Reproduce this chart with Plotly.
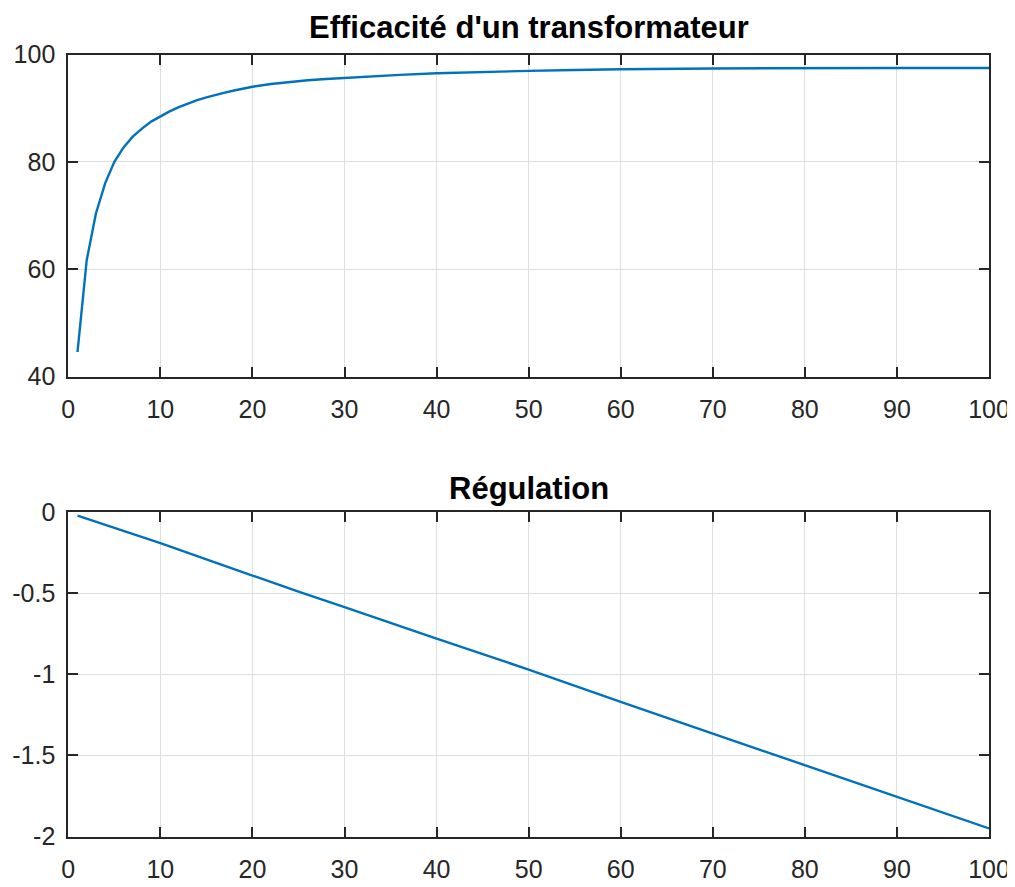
import plotly.graph_objects as go

# ---- data ----
eff_x = [1, 2, 3, 4, 5, 6, 7, 8, 9, 10, 11, 12, 13, 14, 15, 16, 17, 18, 19, 20,
         22, 24, 26, 28, 30, 33, 36, 40, 45, 50, 55, 60, 70, 80, 90, 100]
eff_y = [44.6, 61.7, 70.4, 76.0, 80.0, 82.7, 84.7, 86.2, 87.5, 88.5, 89.4, 90.2, 90.9, 91.5, 92.0,
         92.5, 92.9, 93.3, 93.7, 94.0, 94.5, 94.9, 95.2, 95.45, 95.65, 95.95, 96.2, 96.5, 96.75,
         96.95, 97.1, 97.25, 97.4, 97.5, 97.5, 97.5]

reg_x = [1, 10, 20, 25, 30, 40, 50, 52, 60, 70, 80, 90, 100]
reg_y = [-0.02, -0.19, -0.39, -0.49, -0.585, -0.78, -0.97, -1.01, -1.17, -1.365, -1.56, -1.755, -1.95]

x_ticks = [0, 10, 20, 30, 40, 50, 60, 70, 80, 90, 100]
eff_ticks = [40, 60, 80, 100]
reg_ticks = [0, -0.5, -1, -1.5, -2]
reg_tick_text = ["0", "-0.5", "-1", "-1.5", "-2"]

title_top = "Efficacité d'un transformateur"
title_bottom = "Régulation"

LINE = "#0072BD"
AX = "#262626"
GRID = "#DEDEDE"
FONT = "Liberation Sans, Arial, sans-serif"

# the page body has an 8px margin, so the figure is 8px smaller and everything is shifted by -8px
W, H = 1007, 879
OFF = 8

fig = go.Figure()
fig.add_trace(go.Scatter(x=eff_x, y=eff_y, mode="lines", line=dict(color=LINE, width=2.4),
                         xaxis="x", yaxis="y", showlegend=False))
fig.add_trace(go.Scatter(x=reg_x, y=reg_y, mode="lines", line=dict(color=LINE, width=2.4),
                         xaxis="x2", yaxis="y2", showlegend=False))

def px_x(p):
    return (p - OFF) / W

def px_y(p):
    return 1 - (p - OFF) / H

xd = [px_x(68.3), px_x(989)]
common = dict(showline=True, linecolor=AX, linewidth=2, mirror="ticks", ticks="inside",
              ticklen=10, tickwidth=2, tickcolor=AX, showgrid=True, gridcolor=GRID, gridwidth=1,
              zeroline=False, automargin=False, tickfont=dict(family=FONT, size=25, color=AX))

fig.update_layout(
    template="none",
    width=W, height=H,
    margin=dict(l=0, r=0, t=0, b=0, autoexpand=False),
    paper_bgcolor="white", plot_bgcolor="white",
    xaxis=dict(domain=xd, range=[0, 100], tickvals=x_ticks, anchor="y", ticklabelstandoff=9, **common),
    yaxis=dict(domain=[px_y(376.7), px_y(54.5)], range=[40, 100], tickvals=eff_ticks,
               anchor="x", ticklabelstandoff=6, **common),
    xaxis2=dict(domain=xd, range=[0, 100], tickvals=x_ticks, anchor="y2", ticklabelstandoff=9, **common),
    yaxis2=dict(domain=[px_y(836.5), px_y(512.3)], range=[-2, 0], tickvals=reg_ticks,
                ticktext=reg_tick_text, anchor="x2", ticklabelstandoff=6, **common),
    annotations=[
        dict(text="<b>%s</b>" % title_top, x=(xd[0] + xd[1]) / 2, y=px_y(27), xref="paper", yref="paper",
             xanchor="center", yanchor="middle", showarrow=False,
             font=dict(family=FONT, size=31, color="#000000")),
        dict(text="<b>%s</b>" % title_bottom, x=(xd[0] + xd[1]) / 2, y=px_y(488), xref="paper", yref="paper",
             xanchor="center", yanchor="middle", showarrow=False,
             font=dict(family=FONT, size=31, color="#000000")),
    ],
)

fig.write_html("out.html")
